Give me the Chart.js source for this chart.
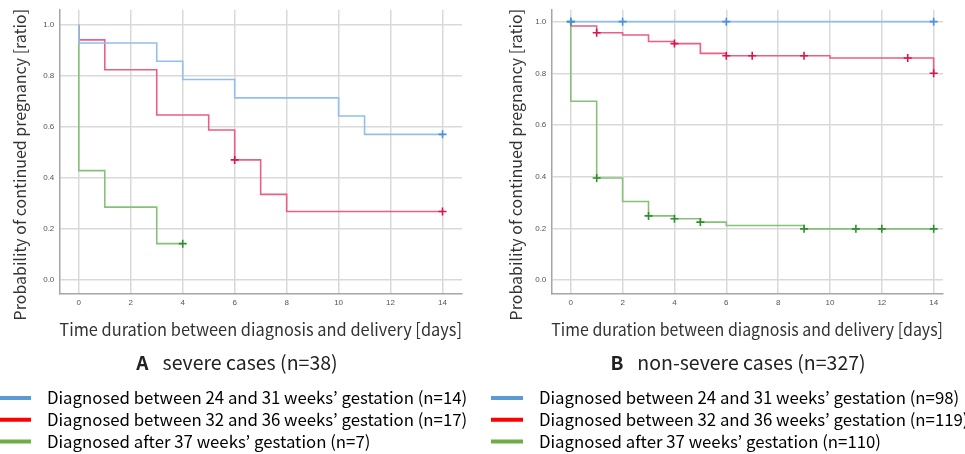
<!DOCTYPE html>
<html lang="en">
<head>
<meta charset="UTF-8">
<title>Kaplan-Meier - continued pregnancy</title>
<script src="https://cdn.jsdelivr.net/npm/chart.js"></script>
<style>
body {
  margin: 0;
  width: 965px;
  height: 454px;
  overflow: hidden;
  background: #fff;
  position: relative;
}
.panel {
  position: absolute;
  top: 0;
  height: 460px;
}
#panelA { left: -6px; width: 491px; }
#panelB { left: 486px; width: 479px; }
</style>
</head>
<body>

<div class="panel" id="panelA"><canvas id="chartA"></canvas></div>
<div class="panel" id="panelB"><canvas id="chartB"></canvas></div>

<script>
// legend / group names
const groupsA = [
  'Diagnosed between 24 and 31 weeks\u2019 gestation (n=14)',
  'Diagnosed between 32 and 36 weeks\u2019 gestation (n=17)',
  'Diagnosed after 37 weeks\u2019 gestation (n=7)'
];
const groupsB = [
  'Diagnosed between 24 and 31 weeks\u2019 gestation (n=98)',
  'Diagnosed between 32 and 36 weeks\u2019 gestation (n=119)',
  'Diagnosed after 37 weeks\u2019 gestation (n=110)'
];

// A: severe cases - step times / survival
const aEarlyT = [0, 0, 3, 4, 6, 10, 11, 14];
const aEarlyS = [1, 0.929, 0.857, 0.786, 0.714, 0.643, 0.571, 0.571];
const aEarlyCensT = [14];
const aEarlyCensS = [0.571];

const aMidT = [0, 0, 1, 3, 5, 6, 7, 8, 14];
const aMidS = [1, 0.941, 0.824, 0.647, 0.588, 0.471, 0.336, 0.269, 0.269];
const aMidCensT = [6, 14];
const aMidCensS = [0.471, 0.269];

const aLateT = [0, 0, 1, 3, 4];
const aLateS = [1, 0.429, 0.286, 0.143, 0.143];
const aLateCensT = [4];
const aLateCensS = [0.143];

// B: non-severe cases
const bEarlyT = [0, 14];
const bEarlyS = [1, 1];
const bEarlyCensT = [0, 2, 6, 14];
const bEarlyCensS = [1, 1, 1, 1];

const bMidT = [0, 0, 1, 2, 3, 4, 5, 6, 10, 14];
const bMidS = [1, 0.983, 0.957, 0.948, 0.923, 0.915, 0.877, 0.868, 0.859, 0.80];
const bMidCensT = [1, 4, 6, 7, 9, 13, 14];
const bMidCensS = [0.957, 0.915, 0.868, 0.868, 0.868, 0.859, 0.80];

const bLateT = [0, 0, 1, 2, 3, 4, 5, 6, 9, 14];
const bLateS = [1, 0.692, 0.395, 0.304, 0.248, 0.237, 0.224, 0.211, 0.198, 0.198];
const bLateCensT = [0, 1, 3, 4, 5, 9, 11, 12, 14];
const bLateCensS = [1, 0.395, 0.248, 0.237, 0.224, 0.198, 0.198, 0.198, 0.198];

const xTicksStep = 2;
const yTicksStep = 0.2;

const lineColors = ['#93bff0', '#ea5f82', '#86c178'];
const markColors = ['#4a90e2', '#e0124c', '#2f8f2f'];
const legendColors = ['#5b9bd5', '#ff0000', '#70ad47'];

const FONT = "'Noto Sans CJK JP', 'Noto Sans', sans-serif";

function pts(T, S) {
  return T.map((t, i) => ({ x: t, y: S[i] }));
}

// draws "A  severe cases" with bold letter into the space of the (invisible) title
const captionPlugin = {
  id: 'caption',
  afterDraw(chart, args, opts) {
    const tb = chart.titleBlock;
    if (!tb) return;
    const ctx = chart.ctx;
    const y = (tb.top + tb.bottom) / 2;
    ctx.save();
    ctx.textBaseline = 'middle';
    ctx.fillStyle = '#222';
    ctx.font = 'bold 19px ' + FONT;
    const w1 = ctx.measureText(opts.letter).width;
    ctx.font = '19.5px ' + FONT;
    const w2 = ctx.measureText(opts.text).width;
    const gap = 14;
    let x = chart.width / 2 + opts.shift - (w1 + gap + w2) / 2;
    ctx.font = 'bold 19px ' + FONT;
    ctx.fillText(opts.letter, x, y);
    ctx.font = '19.5px ' + FONT;
    ctx.fillText(opts.text, x + w1 + gap, y);
    ctx.restore();
  }
};

function makeChart(id, groups, series, cens, cfg) {
  const datasets = [];
  series.forEach((s, i) => {
    datasets.push({
      label: groups[i],
      data: pts(s[0], s[1]),
      stepped: true,
      borderColor: lineColors[i],
      borderWidth: 1.6,
      pointRadius: 0,
      fill: false,
      order: 2
    });
  });
  cens.forEach((c, i) => {
    datasets.push({
      label: 'censored ' + i,
      data: pts(c[0], c[1]),
      showLine: false,
      pointStyle: 'cross',
      pointRadius: 4,
      borderWidth: 1.6,
      borderColor: markColors[i],
      backgroundColor: markColors[i],
      order: 1
    });
  });

  const yTitle = 'Probability of continued pregnancy [ratio]' + ' '.repeat(7);

  return new Chart(document.getElementById(id), {
    type: 'line',
    data: { datasets: datasets },
    plugins: [captionPlugin],
    options: {
      responsive: true,
      maintainAspectRatio: false,
      animation: false,
      layout: { padding: { top: 10, right: 0, left: 0, bottom: 0 } },
      scales: {
        x: {
          type: 'linear',
          min: -0.75,
          max: cfg.xMax,
          grid: { color: '#d9d9d9', lineWidth: 1.5, drawTicks: false },
          border: { color: '#a6a6a6', width: 1.5 },
          ticks: {
            stepSize: xTicksStep,
            includeBounds: false,
            padding: 4,
            color: '#555',
            font: { family: "'Liberation Sans', sans-serif", size: 8 }
          },
          title: {
            display: true,
            text: 'Time duration between diagnosis and delivery [days]',
            color: '#333',
            font: { family: FONT, size: 17, lineHeight: 1.2 },
            padding: { top: 8, bottom: 0 }
          }
        },
        y: {
          min: -0.055,
          max: cfg.yMax,
          grid: { color: '#d9d9d9', lineWidth: 1.5, drawTicks: false },
          border: { color: '#a6a6a6', width: 1.5 },
          ticks: {
            stepSize: yTicksStep,
            includeBounds: false,
            padding: 5,
            color: '#555',
            font: { family: "'Liberation Sans', sans-serif", size: 8 },
            callback: v => v.toFixed(1)
          },
          title: {
            display: true,
            text: yTitle,
            color: '#333',
            font: { family: FONT, size: 16, lineHeight: 1.2 },
            padding: { top: cfg.yTitleTop, bottom: cfg.yTitleBottom }
          }
        },
        // empty strip on the right so the legend keeps the full width
        gap: {
          position: 'right',
          display: true,
          grid: { display: false },
          border: { display: false },
          ticks: { display: false },
          afterFit: s => { s.width = cfg.padRight; }
        }
      },
      plugins: {
        tooltip: { enabled: false },
        title: {
          display: true,
          position: 'bottom',
          weight: 500,
          text: cfg.letter + '  ' + cfg.caption,
          color: 'rgba(0,0,0,0)',
          font: { family: FONT, size: 17, lineHeight: 1.2 },
          padding: { top: 12, bottom: 12 }
        },
        caption: { letter: cfg.letter, text: cfg.caption, shift: cfg.captionShift },
        legend: {
          position: 'bottom',
          align: 'start',
          labels: {
            boxWidth: 32,
            boxHeight: 4,
            padding: 5,
            color: '#333',
            font: { family: FONT, size: 16.8 },
            generateLabels: () => groups.map((g, i) => ({
              text: '  ' + g,
              fillStyle: legendColors[i],
              strokeStyle: legendColors[i],
              lineWidth: 0,
              hidden: false,
              datasetIndex: i
            }))
          }
        }
      }
    }
  });
}

makeChart('chartA', groupsA,
  [[aEarlyT, aEarlyS], [aMidT, aMidS], [aLateT, aLateS]],
  [[aEarlyCensT, aEarlyCensS], [aMidCensT, aMidCensS], [aLateCensT, aLateCensS]],
  { xMax: 14.75, yMax: 1.058, padRight: 23, yTitleTop: 16, yTitleBottom: 9,
    letter: 'A', caption: 'severe cases (n=38)', captionShift: -2.5 });

makeChart('chartB', groupsB,
  [[bEarlyT, bEarlyS], [bMidT, bMidS], [bLateT, bLateS]],
  [[bEarlyCensT, bEarlyCensS], [bMidCensT, bMidCensS], [bLateCensT, bLateCensS]],
  { xMax: 14.36, yMax: 1.045, padRight: 22, yTitleTop: 20, yTitleBottom: 5,
    letter: 'B', caption: 'non-severe cases (n=327)', captionShift: 12.5 });
</script>

</body>
</html>
